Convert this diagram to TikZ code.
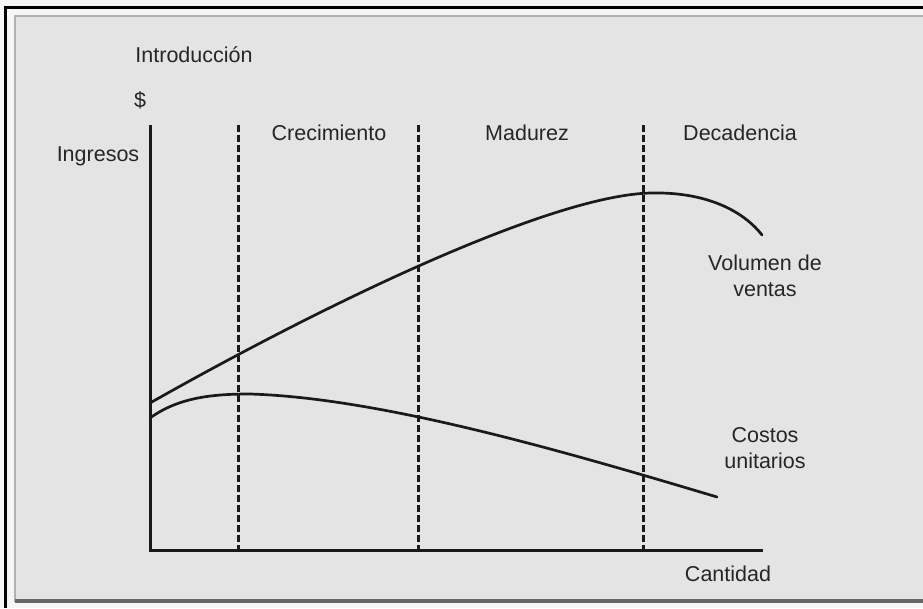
\documentclass[tikz,border=0pt]{standalone}
\usepackage{fontspec}
\setmainfont{Liberation Sans}
\begin{document}
\begin{tikzpicture}[x=1pt,y=-1pt,
  lbl/.style={text=textgray,font=\fontsize{21.5}{25.5}\selectfont,inner sep=0pt},
  axisline/.style={draw=inkgray,line width=3pt},
  curve/.style={draw=inkgray,line width=2.7pt,line cap=round},
  phase/.style={draw=inkgray,line width=3pt,dash pattern=on 6.5pt off 3.5pt}]
\definecolor{textgray}{HTML}{262626}
\definecolor{inkgray}{HTML}{1A1A1A}
\definecolor{panel}{HTML}{E4E4E4}
\definecolor{paper}{HTML}{F6F6F6}
\useasboundingbox (0,0) rectangle (923,608);
% paper and frame
\fill[paper] (0,0) rectangle (923,608);
\fill[panel] (15,16) rectangle (923,602);
\draw[draw=black!30,line width=2pt] (15,602) -- (15,16) -- (923,16);
\draw[draw=black!60,line width=4pt] (15,601) -- (923,601);
\draw[draw=black,line width=2.8pt] (5.5,608) -- (5.5,7.5) -- (923,7.5);

% axes
\coordinate (O) at (150,550);
\coordinate (ytop) at (150,125);
\coordinate (xend) at (763,550);
\draw[axisline] (ytop) -- (O) -- (xend);

% phase boundaries
\coordinate (b1t) at (238,125); \coordinate (b1b) at (238,550);
\coordinate (b2t) at (418,125); \coordinate (b2b) at (418,550);
\coordinate (b3t) at (643,125); \coordinate (b3b) at (643,550);
\draw[phase] (b1t) -- (b1b);
\draw[phase] (b2t) -- (b2b);
\draw[phase] (b3t) -- (b3b);

% sales volume
\coordinate (v0) at (150,403);
\coordinate (vpk) at (652,193);
\coordinate (v1) at (762,235);
\draw[curve] (v0) .. controls (350,290) and (560,194) .. (vpk)
  .. controls (700,192) and (740,207) .. (v1);

% unit costs
\coordinate (c0) at (150,418);
\coordinate (cpk) at (250,394);
\coordinate (c1) at (717,497);
\draw[curve] (c0) .. controls (178,398) and (210,394) .. (cpk)
  .. controls (380,398) and (560,450) .. (c1);

% labels
\node[lbl] (intro) at (194,55) {Introducción};
\node[lbl] (dollar) at (140,100) {\$};
\node[lbl] (ingresos) at (98,156) {Ingresos};
\node[lbl] (crec) at (329,133) {Crecimiento};
\node[lbl] (madurez) at (527,133) {Madurez};
\node[lbl] (decad) at (740,133) {Decadencia};
\node[lbl,align=center] (ventas) at (765,276) {Volumen de\\ventas};
\node[lbl,align=center] (costos) at (765,448) {Costos\\unitarios};
\node[lbl] (cantidad) at (728,574) {Cantidad};
\end{tikzpicture}
\end{document}
